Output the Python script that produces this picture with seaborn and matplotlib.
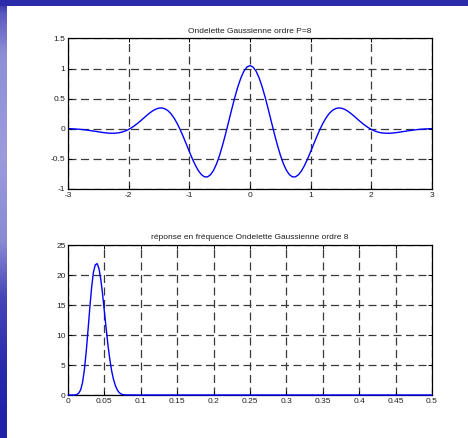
import numpy as np
import pandas as pd
import matplotlib
matplotlib.use("Agg")
import matplotlib.pyplot as plt
from matplotlib.colors import LinearSegmentedColormap
import seaborn as sns

# Gaussian wavelet of order 8, sampled on [-3, 3] every 0.05
t = np.round(np.arange(-3.0, 3.0001, 0.05), 2)
psi = [
    0.003, 0.001, -0.002, -0.005, -0.009, -0.014, -0.020, -0.027, -0.034, -0.042,
    -0.050, -0.058, -0.065, -0.070, -0.074, -0.074, -0.071, -0.064, -0.051, -0.034,
    -0.010, 0.019, 0.054, 0.093, 0.135, 0.180, 0.224, 0.265, 0.301, 0.328,
    0.344, 0.346, 0.331, 0.299, 0.247, 0.176, 0.088, -0.016, -0.131, -0.254,
    -0.379, -0.499, -0.607, -0.697, -0.762, -0.798, -0.799, -0.762, -0.689, -0.579,
    -0.436, -0.265, -0.075, 0.126, 0.329, 0.524, 0.699, 0.846, 0.957, 1.026,
    1.050,
    1.026, 0.957, 0.846, 0.699, 0.524, 0.329, 0.126, -0.075, -0.265, -0.436,
    -0.579, -0.689, -0.762, -0.799, -0.798, -0.762, -0.697, -0.607, -0.499, -0.379,
    -0.254, -0.131, -0.016, 0.088, 0.176, 0.247, 0.299, 0.331, 0.346, 0.344,
    0.328, 0.301, 0.265, 0.224, 0.180, 0.135, 0.093, 0.054, 0.019, -0.010,
    -0.034, -0.051, -0.064, -0.071, -0.074, -0.074, -0.070, -0.065, -0.058, -0.050,
    -0.042, -0.034, -0.027, -0.020, -0.014, -0.009, -0.005, -0.002, 0.001, 0.003,
]

# Magnitude of the frequency response
freq = [
    0.0, 0.0025, 0.005, 0.0075, 0.01, 0.0125, 0.015, 0.0175, 0.02, 0.0225,
    0.025, 0.0275, 0.03, 0.0325, 0.035, 0.0375, 0.04, 0.0425, 0.045, 0.0475,
    0.05, 0.0525, 0.055, 0.0575, 0.06, 0.0625, 0.065, 0.0675, 0.07, 0.0725,
    0.075, 0.0775, 0.08, 0.1, 0.2, 0.3, 0.4, 0.5,
]
gain = [
    0.0, 0.0, 0.0, 0.0, 0.02, 0.1, 0.35, 0.9, 2.1, 4.2,
    7.2, 10.8, 14.6, 18.0, 20.5, 21.7, 21.9, 21.1, 19.3, 16.8,
    13.9, 11.0, 8.2, 5.9, 4.0, 2.6, 1.6, 0.9, 0.45, 0.2,
    0.08, 0.03, 0.01, 0.0, 0.0, 0.0, 0.0, 0.0,
]

title_top = "Ondelette Gaussienne ordre P=8"
title_bottom = "réponse en fréquence Ondelette Gaussienne ordre 8"
xticks_top = [-3, -2, -1, 0, 1, 2, 3]
yticks_top = [-1, -0.5, 0, 0.5, 1, 1.5]
xticks_bottom = [0, 0.05, 0.1, 0.15, 0.2, 0.25, 0.3, 0.35, 0.4, 0.45, 0.5]
yticks_bottom = [0, 5, 10, 15, 20, 25]

sns.set_theme(style="white")
plt.rcParams["font.family"] = ["Liberation Sans", "DejaVu Sans"]

W, H = 468, 438
fig = plt.figure(figsize=(W / 100, H / 100), dpi=100)
fig.patch.set_facecolor("white")

# Slide frame: blue band on top and shaded bar on the left
bg = fig.add_axes([0, 0, 1, 1], zorder=-5)
bg.set_xlim(0, W)
bg.set_ylim(H, 0)
bg.axis("off")
bar_cmap = LinearSegmentedColormap.from_list(
    "bar",
    [(0.0, "#2a2aa8"), (0.03, "#5a5ac0"), (0.12, "#8e8ed6"), (0.35, "#9c9cdc"),
     (0.55, "#8a8ad4"), (0.68, "#4646b8"), (0.85, "#2828ac"), (1.0, "#2020a8")],
)
grad = np.linspace(0, 1, 256).reshape(-1, 1)
bg.imshow(grad, cmap=bar_cmap, aspect="auto", extent=(0, 7, H, 0), zorder=1)
bg.add_patch(plt.Rectangle((0, 0), W, 6, color="#2c2caa", lw=0, zorder=2))


def pos(left, top, right, bottom):
    return [left / W, 1 - bottom / H, (right - left) / W, (bottom - top) / H]


def style_axes(ax, xticks, yticks, xlim, ylim, title, title_pad):
    ax.set_xlim(*xlim)
    ax.set_ylim(*ylim)
    ax.set_xticks(xticks)
    ax.set_yticks(yticks)
    ax.set_xticklabels([f"{v:g}" for v in xticks])
    ax.set_yticklabels([f"{v:g}" for v in yticks])
    ax.set_axisbelow(True)
    ax.grid(True, color="#3a3a3a", lw=0.9, linestyle=(0, (6.4, 3.6)))
    ax.tick_params(direction="in", length=3, width=0.7, colors="black",
                   labelsize=6, labelcolor="#202020", pad=2.5)
    ax.tick_params(axis="y", pad=1.8)
    ax.tick_params(top=True, right=True, bottom=True, left=True)
    for s in ax.spines.values():
        s.set_visible(True)
        s.set_color("black")
        s.set_linewidth(0.9)
    ax.set_xlabel("")
    ax.set_ylabel("")
    ax.set_title(title, fontsize=6, color="#202020", pad=title_pad)
    ax.set_facecolor("white")


ax1 = fig.add_axes(pos(68, 38.5, 432, 189))
sns.lineplot(x=t, y=psi, ax=ax1, color="#0000ff", lw=1.0, estimator=None, sort=False)
style_axes(ax1, xticks_top, yticks_top, (-3, 3), (-1, 1.5), title_top, 4.2)

ax2 = fig.add_axes(pos(68, 245, 432, 395))
sns.lineplot(x=freq, y=gain, ax=ax2, color="#0000ff", lw=1.0, estimator=None,
             sort=False, clip_on=False, zorder=4)
style_axes(ax2, xticks_bottom, yticks_bottom, (0, 0.5), (0, 25), title_bottom, 4.5)

fig.savefig("out.png", dpi=100, facecolor="white")
